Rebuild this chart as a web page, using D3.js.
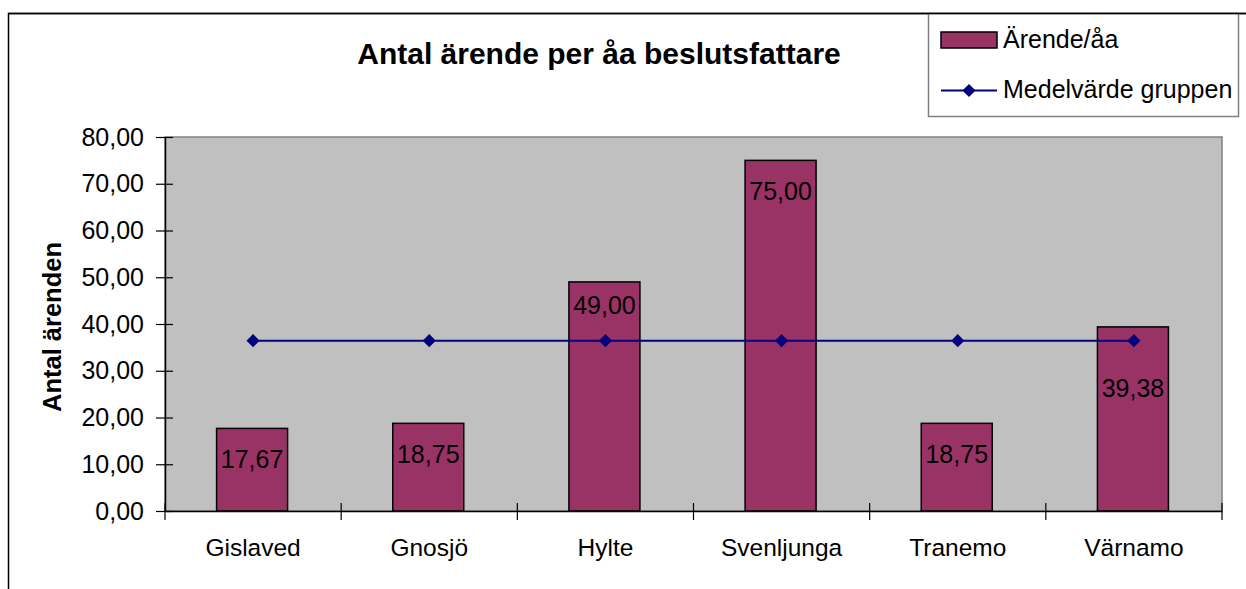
<!DOCTYPE html>
<html>
<head>
<meta charset="utf-8">
<script src="https://cdn.jsdelivr.net/npm/d3@7"></script>
<style>
  body { margin: 0; background: #fff; }
  svg text { font-family: "Liberation Sans", Arial, sans-serif; fill: #000; }
</style>
</head>
<body>
<div id="chart-area"></div>
<script>
// data
const categories = ["Gislaved", "Gnosjö", "Hylte", "Svenljunga", "Tranemo", "Värnamo"]
const arendeValues = [17.67, 18.75, 49.00, 75.00, 18.75, 39.38]
const medelValues = [36.43, 36.43, 36.43, 36.43, 36.43, 36.43]
const yTicks = [0, 10, 20, 30, 40, 50, 60, 70, 80]

// label tweaks (px below bar top), as in the original sheet
const labelShift = { "Hylte": 32, "Värnamo": 70 }

const W = 1246, H = 589
const PLOT = { LEFT: 165, RIGHT: 1222, TOP: 137, BOTTOM: 511 }

const fmt = v => d3.format(".2f")(v).replace(".", ",")

const svg = d3.select("#chart-area").append("svg")
  .attr("width", W)
  .attr("height", H)

// outer chart frame (runs off the page on the right and bottom)
svg.append("rect")
  .attr("x", 8.5).attr("y", 13.5)
  .attr("width", 1300).attr("height", 700)
  .attr("fill", "#fff")
  .attr("stroke", "#000")
  .attr("stroke-width", 1.5)

const x = d3.scaleBand()
  .domain(categories)
  .range([PLOT.LEFT, PLOT.RIGHT])
  .padding(0)

const y = d3.scaleLinear()
  .domain([0, 80])
  .range([PLOT.BOTTOM, PLOT.TOP])

// plot area
svg.append("rect")
  .attr("x", PLOT.LEFT).attr("y", PLOT.TOP)
  .attr("width", PLOT.RIGHT - PLOT.LEFT)
  .attr("height", PLOT.BOTTOM - PLOT.TOP)
  .attr("fill", "#c0c0c0")
  .attr("stroke", "#808080")
  .attr("stroke-width", 1.5)

// title
svg.append("text")
  .attr("x", 599)
  .attr("y", 64)
  .attr("text-anchor", "middle")
  .attr("font-size", "30px")
  .attr("font-weight", "bold")
  .text("Antal ärende per åa beslutsfattare")

// y label
svg.append("text")
  .attr("transform", "translate(61, 327) rotate(-90)")
  .attr("text-anchor", "middle")
  .attr("font-size", "25.5px")
  .attr("font-weight", "bold")
  .text("Antal ärenden")

// bars
const barW = x.bandwidth() * 0.403
svg.selectAll("rect.bar")
  .data(categories)
  .enter().append("rect")
  .attr("class", "bar")
  .attr("x", d => x(d) + x.bandwidth() / 2 - barW / 2 - 1)
  .attr("y", (d, i) => y(arendeValues[i]))
  .attr("width", barW)
  .attr("height", (d, i) => y(0) - y(arendeValues[i]))
  .attr("fill", "#993366")
  .attr("stroke", "#000")
  .attr("stroke-width", 1.5)

// axes
const yAxis = svg.append("g")
  .attr("transform", `translate(${PLOT.LEFT}, 0)`)
  .call(d3.axisLeft(y).tickValues(yTicks).tickSize(0).tickPadding(21).tickFormat(fmt))
yAxis.select(".domain").attr("stroke", "#000").attr("stroke-width", 1.5)
yAxis.selectAll("text").attr("font-size", "25px").attr("font-family", null)
yAxis.selectAll(".tick").append("line")
  .attr("x1", -9).attr("x2", 8)
  .attr("stroke", "#000").attr("stroke-width", 1.2)

const xAxis = svg.append("g")
  .attr("transform", `translate(0, ${PLOT.BOTTOM})`)
  .call(d3.axisBottom(x).tickSize(0).tickPadding(28))
xAxis.select(".domain").attr("stroke", "#000").attr("stroke-width", 1.5)
xAxis.selectAll("text").attr("font-size", "24.5px").attr("font-family", null)

// category boundary ticks
const bounds = d3.range(categories.length + 1).map(i => PLOT.LEFT + i * x.step())
xAxis.selectAll("line.bound")
  .data(bounds)
  .enter().append("line")
  .attr("class", "bound")
  .attr("x1", d => d).attr("x2", d => d)
  .attr("y1", -8).attr("y2", 9)
  .attr("stroke", "#000").attr("stroke-width", 1.2)

// data labels
svg.selectAll("text.val")
  .data(categories)
  .enter().append("text")
  .attr("class", "val")
  .attr("x", d => x(d) + x.bandwidth() / 2 - 1)
  .attr("y", (d, i) => y(arendeValues[i]) + (labelShift[d] || 40))
  .attr("text-anchor", "middle")
  .attr("font-size", "25px")
  .text((d, i) => fmt(arendeValues[i]))

// mean line
const line = d3.line()
  .x(d => x(d) + x.bandwidth() / 2)
  .y((d, i) => y(medelValues[i]))
svg.append("path")
  .attr("d", line(categories))
  .attr("fill", "none")
  .attr("stroke", "#000080")
  .attr("stroke-width", 2)

const diamond = d3.symbol().type(d3.symbolDiamond2).size(110)
svg.selectAll("path.marker")
  .data(categories)
  .enter().append("path")
  .attr("class", "marker")
  .attr("transform", (d, i) => `translate(${x(d) + x.bandwidth() / 2}, ${y(medelValues[i])})`)
  .attr("d", diamond)
  .attr("fill", "#000080")

// legend
svg.append("rect")
  .attr("x", 928.5).attr("y", 13.5)
  .attr("width", 310).attr("height", 103)
  .attr("fill", "#fff")
  .attr("stroke", "#808080")
  .attr("stroke-width", 1.5)

const legendG = svg.append("g").attr("transform", "translate(941, 0)")
legendG.append("rect")
  .attr("x", 0).attr("y", 32)
  .attr("width", 56).attr("height", 16)
  .attr("fill", "#993366")
  .attr("stroke", "#000").attr("stroke-width", 1.5)
legendG.append("text")
  .attr("x", 62).attr("y", 48)
  .attr("font-size", "25px")
  .text("Ärende/åa")

legendG.append("line")
  .attr("x1", 0).attr("x2", 56)
  .attr("y1", 90.5).attr("y2", 90.5)
  .attr("stroke", "#000080").attr("stroke-width", 2)
legendG.append("path")
  .attr("transform", "translate(28, 90.5)")
  .attr("d", diamond)
  .attr("fill", "#000080")
legendG.append("text")
  .attr("x", 62).attr("y", 98)
  .attr("font-size", "25px")
  .text("Medelvärde gruppen")

// top frame line is drawn over the legend box
svg.append("line")
  .attr("x1", 8).attr("x2", W)
  .attr("y1", 13.5).attr("y2", 13.5)
  .attr("stroke", "#000").attr("stroke-width", 1.5)
</script>
</body>
</html>
